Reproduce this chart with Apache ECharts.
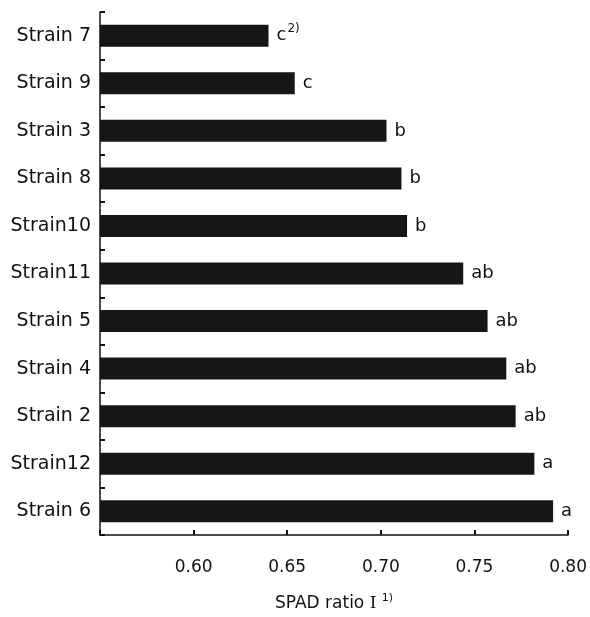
<!DOCTYPE html>
<html>
<head>
<meta charset="utf-8">
<script src="https://cdn.jsdelivr.net/npm/echarts@6/dist/echarts.min.js"></script>
<style>
  html, body { margin: 0; padding: 0; background: #fff; }
  #chart { width: 590px; height: 617px; }
</style>
</head>
<body>
<div id="chart"></div>
<script>
const strains = ["Strain 7", "Strain 9", "Strain 3", "Strain 8", "Strain10", "Strain11",
  "Strain 5", "Strain 4", "Strain 2", "Strain12", "Strain 6"];
const spadRatio = [0.640, 0.654, 0.703, 0.711, 0.714, 0.744, 0.757, 0.767, 0.772, 0.782, 0.792];
const letters = ["c", "c", "b", "b", "b", "ab", "ab", "ab", "ab", "a", "a"];
const letterNotes = ["2)", "", "", "", "", "", "", "", "", "", ""];

const chart = echarts.init(document.getElementById("chart"));
const font = "DejaVu Sans";

chart.setOption({
  animation: false,
  grid: { left: 100, right: 21, top: 12, bottom: 78, containLabel: false },
  xAxis: {
    type: "value",
    min: 0.55,
    max: 0.80,
    interval: 0.05,
    name: "SPAD ratio {r|I} {sup|1)}",
    nameLocation: "middle",
    nameGap: 58,
    nameTextStyle: {
      fontFamily: font, fontSize: 17, color: "#111",
      rich: {
        r: { fontFamily: "DejaVu Serif", fontSize: 17, color: "#111" },
        sup: { fontFamily: font, fontSize: 11, color: "#111", verticalAlign: "top", padding: [0, 0, 10, 0] }
      }
    },
    axisLine: { show: true, lineStyle: { color: "#111", width: 1.5 } },
    axisTick: { show: true, inside: true, length: 5, lineStyle: { color: "#111", width: 2 } },
    splitLine: { show: false },
    axisLabel: {
      fontFamily: font, fontSize: 17, color: "#111", margin: 24,
      formatter: v => (Math.abs(v - 0.55) < 1e-6 ? "" : v.toFixed(2))
    }
  },
  yAxis: {
    type: "category",
    data: strains,
    inverse: true,
    axisLine: { show: true, lineStyle: { color: "#111", width: 1.5 } },
    axisTick: { show: true, inside: true, length: 5, lineStyle: { color: "#111", width: 2 } },
    axisLabel: { fontFamily: font, fontSize: 19, color: "#111", margin: 9 }
  },
  series: [{
    type: "bar",
    data: spadRatio,
    barWidth: 22,
    itemStyle: { color: "#161616" },
    label: {
      show: true,
      position: "right",
      distance: 8,
      formatter: p => {
        const note = letterNotes[p.dataIndex];
        return letters[p.dataIndex] + (note ? "{sup|" + note + "}" : "");
      },
      fontFamily: font, fontSize: 18, color: "#111",
      rich: {
        sup: { fontFamily: font, fontSize: 12, color: "#111", verticalAlign: "top", padding: [0, 0, 14, 1] }
      }
    }
  }]
});
</script>
</body>
</html>
